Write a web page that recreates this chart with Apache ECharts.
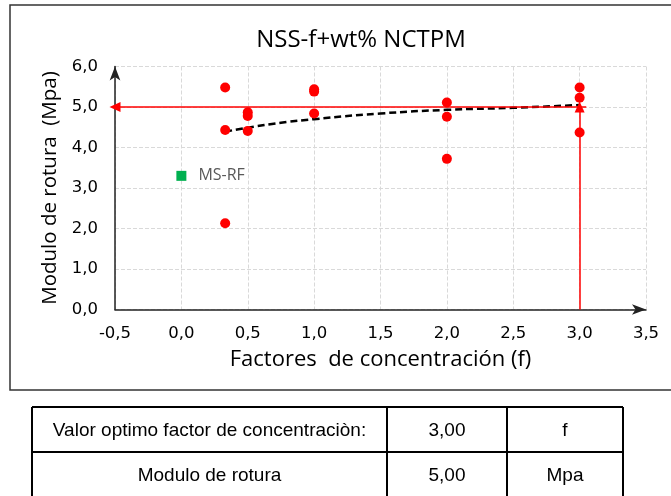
<!DOCTYPE html>
<html>
<head>
<meta charset="utf-8">
<script src="https://cdn.jsdelivr.net/npm/echarts@6/dist/echarts.min.js"></script>
<style>
html,body{margin:0;padding:0;background:#fff;}
#chart{width:671px;height:496px;}
</style>
</head>
<body>
<div id="chart"></div>
<script>
// ---- data ----
const chartTitle = 'NSS-f+wt% NCTPM';
const xAxisName = 'Factores  de concentración (f)';
const yAxisName = 'Modulo de rotura  (Mpa)';
const concentrationFactors = [0.33, 0.5, 1.0, 2.0, 3.0];
const modulusRun1 = [5.48, 4.87, 5.44, 5.11, 5.48];
const modulusRun2 = [4.43, 4.78, 5.38, 4.76, 5.23];
const modulusRun3 = [2.13, 4.41, 4.84, 3.72, 4.37];
const referenceFactor = [0.0];
const referenceModulus = [3.30];
const referenceName = 'MS-RF';
const trendFactors = [0.33, 0.5, 0.75, 1.0, 1.5, 2.0, 2.5, 3.0];
const trendModulus = [4.39, 4.49, 4.61, 4.70, 4.84, 4.93, 4.98, 5.05];
const optimumFactor = 3.00;
const optimumModulus = 5.00;
const tableLabels = ['Valor optimo factor de concentraciòn:', 'Modulo de rotura'];
const tableValues = [optimumFactor, optimumModulus];
const tableUnits = ['f', 'Mpa'];

const fmt1 = v => v.toFixed(1).replace('.', ',');
const fmt2 = v => v.toFixed(2).replace('.', ',');

const scatterData = [];
concentrationFactors.forEach((f, i) => {
  scatterData.push([f, modulusRun1[i]]);
  scatterData.push([f, modulusRun2[i]]);
  scatterData.push([f, modulusRun3[i]]);
});

const chart = echarts.init(document.getElementById('chart'));

// table graphics
const tX = [32, 387, 507, 623];
const tY = [407, 452, 500];
const tableGraphics = [];
tY.forEach(y => tableGraphics.push({type:'line', shape:{x1:tX[0], y1:y, x2:tX[3], y2:y}, style:{stroke:'#000', lineWidth:2}}));
tX.forEach(x => tableGraphics.push({type:'line', shape:{x1:x, y1:tY[0], x2:x, y2:tY[2]}, style:{stroke:'#000', lineWidth:2}}));
const rowCenters = [431, 476];
tableLabels.forEach((lab, i) => {
  const txtStyle = {fill:'#000', font:'19px "Liberation Sans", Arial, sans-serif', textAlign:'center', textVerticalAlign:'middle'};
  tableGraphics.push({type:'text', x:(tX[0]+tX[1])/2, y:rowCenters[i], style:Object.assign({text:lab}, txtStyle)});
  tableGraphics.push({type:'text', x:(tX[1]+tX[2])/2, y:rowCenters[i], style:Object.assign({text:fmt2(tableValues[i])}, txtStyle)});
  tableGraphics.push({type:'text', x:(tX[2]+tX[3])/2, y:rowCenters[i], style:Object.assign({text:tableUnits[i]}, txtStyle)});
});

const option = {
  backgroundColor: '#fff',
  animation: false,
  title: {
    text: chartTitle,
    left: 356,
    top: 23,
    textAlign: 'center',
    textStyle: {fontFamily: '"Open Sans", sans-serif', fontSize: 24, fontWeight: 'normal', color: '#000'}
  },
  graphic: [
    {type:'rect', shape:{x:10, y:5, width:700, height:385}, style:{fill:'none', stroke:'#333', lineWidth:1.5}, z:-10}
  ].concat(tableGraphics),
  grid: {left: 115, right: 25, top: 66.5, bottom: 186.5, containLabel: false},
  xAxis: {
    type: 'value', min: -0.5, max: 3.5, interval: 0.5,
    name: xAxisName, nameLocation: 'middle', nameGap: 39,
    nameTextStyle: {fontFamily: '"Open Sans", sans-serif', fontSize: 22, color: '#000'},
    axisLine: {onZero: false, symbol: ['none', 'arrow'], symbolSize: [8, 14], lineStyle: {color: '#222', width: 1.5}},
    axisTick: {show: false},
    axisLabel: {formatter: fmt1, fontFamily: '"DejaVu Sans", Verdana, sans-serif', fontSize: 16.5, color: '#000', margin: 16},
    splitLine: {show: true, lineStyle: {color: '#d9d9d9', type: 'dashed', width: 1}}
  },
  yAxis: {
    type: 'value', min: 0, max: 6, interval: 1,
    name: yAxisName, nameLocation: 'middle', nameGap: 52,
    nameTextStyle: {fontFamily: '"Open Sans", sans-serif', fontSize: 20.5, color: '#000'},
    axisLine: {show: true, onZero: false, symbol: ['none', 'arrow'], symbolSize: [8, 14], lineStyle: {color: '#222', width: 1.5}},
    axisTick: {show: false},
    axisLabel: {formatter: fmt1, fontFamily: '"DejaVu Sans", Verdana, sans-serif', fontSize: 16.5, color: '#000', margin: 17},
    splitLine: {show: true, lineStyle: {color: '#d9d9d9', type: 'dashed', width: 1}}
  },
  series: [
    {
      type: 'line', name: 'guides', data: [], silent: true,
      markLine: {
        silent: true, animation: false,
        symbol: ['none', 'triangle'], symbolSize: [10, 11],
        label: {show: false},
        lineStyle: {color: '#ff0000', width: 1.5, type: 'solid', opacity: 1},
        data: [
          [{coord: [optimumFactor + 0.05, optimumModulus]}, {coord: [-0.5, optimumModulus]}],
          [{coord: [optimumFactor, 0]}, {coord: [optimumFactor, optimumModulus]}]
        ]
      }
    },
    {
      type: 'line', name: 'trend', data: trendFactors.map((f, i) => [f, trendModulus[i]]),
      smooth: true, showSymbol: false, symbol: 'none',
      lineStyle: {color: '#000', width: 2.5, type: [7, 4]}, z: 3
    },
    {
      type: 'scatter', name: 'NSS', data: scatterData,
      symbol: 'circle', symbolSize: 10, itemStyle: {color: '#ff0000', opacity: 1}, z: 4
    },
    {
      type: 'scatter', name: referenceName,
      data: referenceFactor.map((f, i) => [f, referenceModulus[i]]),
      symbol: 'rect', symbolSize: 10, itemStyle: {color: '#00b050', opacity: 1},
      label: {show: true, position: 'right', distance: 12, formatter: referenceName,
        fontFamily: '"Open Sans", sans-serif', fontSize: 16, color: '#595959'}
    }
  ]
};
chart.setOption(option);
</script>
</body>
</html>
